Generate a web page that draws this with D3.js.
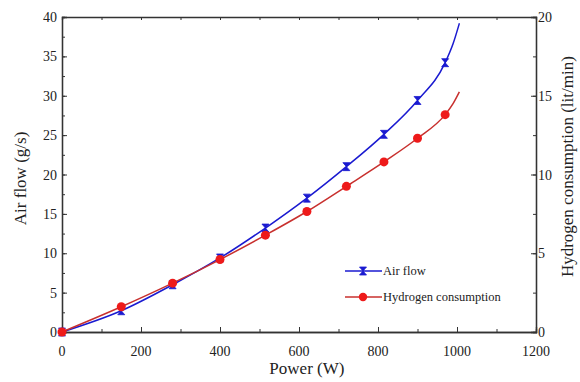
<!DOCTYPE html>
<html>
<head>
<meta charset="utf-8">
<script src="https://cdn.jsdelivr.net/npm/d3@7"></script>
<style>
  body { margin: 0; background: #fff; }
  text { font-family: "Liberation Serif", "DejaVu Serif", serif; fill: #222; }
</style>
</head>
<body>
<div id="chart"></div>
<script>
// measured points (Power in W)
const power = [0, 150, 280, 400, 515, 620, 720, 815, 900, 970];
const airFlow = [0, 2.7, 6.0, 9.4, 13.2, 17.0, 21.0, 25.1, 29.4, 34.2];
const hydrogen = [0, 1.6, 3.1, 4.6, 6.15, 7.65, 9.25, 10.8, 12.3, 13.8];

// tail of the fitted curves, past the last marker
const tailPower = [990, 1006];
const airTail = [36.6, 39.2];
const h2Tail = [14.5, 15.25];

const xTicks = [0, 200, 400, 600, 800, 1000, 1200];
const yLeftTicks = [0, 5, 10, 15, 20, 25, 30, 35, 40];
const yRightTicks = [0, 5, 10, 15, 20];

const width = 580, height = 382;
const m = { left: 62, right: 44, top: 17, bottom: 50 };

const svg = d3.select("#chart").append("svg")
  .attr("width", width).attr("height", height);

const x = d3.scaleLinear().domain([0, 1200]).range([m.left, width - m.right]);
const yL = d3.scaleLinear().domain([0, 40]).range([height - m.bottom, m.top]);
const yR = d3.scaleLinear().domain([0, 20]).range([height - m.bottom, m.top]);

const blue = "#1a1ad0";
const redLine = "#c8302e";
const redDot = "#ee1a1a";

// axes (ticks inward)
function minor(step, max) {
  return d3.range(0, max + 0.001, step);
}
const axisColor = "#333";

const gx = svg.append("g").attr("transform", `translate(0,${height - m.bottom})`);
gx.call(d3.axisTop(x).tickValues(minor(100, 1200)).tickSize(3).tickFormat(""));
gx.call(g => g.append("g").call(d3.axisTop(x).tickValues(xTicks).tickSize(5).tickFormat("")));
gx.selectAll("text").remove();
xTicks.forEach(v => {
  gx.append("text").attr("x", x(v)).attr("y", 24)
    .attr("text-anchor", "middle").style("font-size", "14px").text(v);
});

const gt = svg.append("g").attr("transform", `translate(0,${m.top})`);
gt.call(d3.axisBottom(x).tickValues(minor(100, 1200)).tickSize(3).tickFormat(""));

const gl = svg.append("g").attr("transform", `translate(${m.left},0)`);
gl.call(d3.axisRight(yL).tickValues(minor(2.5, 40)).tickSize(3).tickFormat(""));
gl.append("g").call(d3.axisRight(yL).tickValues(yLeftTicks).tickSize(5).tickFormat(""));
yLeftTicks.forEach(v => {
  gl.append("text").attr("x", -5).attr("y", yL(v) + 5)
    .attr("text-anchor", "end").style("font-size", "14px").text(v);
});

const gr = svg.append("g").attr("transform", `translate(${width - m.right},0)`);
gr.call(d3.axisLeft(yR).tickValues(minor(2.5, 20)).tickSize(3).tickFormat(""));
gr.append("g").call(d3.axisLeft(yR).tickValues(yRightTicks).tickSize(5).tickFormat(""));
yRightTicks.forEach(v => {
  gr.append("text").attr("x", 2).attr("y", yR(v) + 5)
    .attr("text-anchor", "start").style("font-size", "14px").text(v);
});

svg.selectAll(".domain").attr("stroke", axisColor).attr("stroke-width", 1.3);
svg.selectAll(".tick line").attr("stroke", axisColor);

// axis titles
svg.append("text").attr("x", x(620)).attr("y", 374)
  .attr("text-anchor", "middle").style("font-size", "17px").text("Power (W)");
svg.append("text")
  .attr("transform", `translate(26,${yL(19.5)}) rotate(-90)`)
  .attr("text-anchor", "middle").style("font-size", "17px").text("Air flow (g/s)");
svg.append("text")
  .attr("transform", `translate(573,${yR(10.5)}) rotate(-90)`)
  .attr("text-anchor", "middle").style("font-size", "17px").text("Hydrogen consumption (lit/min)");

// curves
const airPts = power.map((p, i) => [p, airFlow[i]]).concat(tailPower.map((p, i) => [p, airTail[i]]));
const h2Pts = power.map((p, i) => [p, hydrogen[i]]).concat(tailPower.map((p, i) => [p, h2Tail[i]]));

svg.append("path").datum(airPts)
  .attr("fill", "none").attr("stroke", blue).attr("stroke-width", 1.5)
  .attr("d", d3.line().x(d => x(d[0])).y(d => yL(d[1])).curve(d3.curveMonotoneX));
svg.append("path").datum(h2Pts)
  .attr("fill", "none").attr("stroke", redLine).attr("stroke-width", 1.5)
  .attr("d", d3.line().x(d => x(d[0])).y(d => yR(d[1])).curve(d3.curveMonotoneX));

const hourglass = "M-3.5,-4H3.5L-3.5,4H3.5Z";

svg.append("g").selectAll("path")
  .data(power.map((p, i) => [p, airFlow[i]]))
  .join("path")
  .attr("transform", d => `translate(${x(d[0])},${yL(d[1])})`)
  .attr("d", hourglass).attr("fill", blue).attr("stroke", blue).attr("stroke-width", 0.8);

svg.append("g").selectAll("circle")
  .data(power.map((p, i) => [p, hydrogen[i]]))
  .join("circle")
  .attr("cx", d => x(d[0])).attr("cy", d => yR(d[1])).attr("r", 4.5)
  .attr("fill", redDot);

// legend
const leg = svg.append("g").attr("transform", "translate(345,271)");
leg.append("line").attr("x1", 0).attr("x2", 37).attr("y1", 0).attr("y2", 0)
  .attr("stroke", blue).attr("stroke-width", 1.5);
leg.append("path").attr("transform", "translate(18,0)").attr("d", hourglass)
  .attr("fill", blue).attr("stroke", blue).attr("stroke-width", 0.8);
leg.append("text").attr("x", 38).attr("y", 4).style("font-size", "12.5px").text("Air flow");
leg.append("line").attr("x1", 0).attr("x2", 37).attr("y1", 26).attr("y2", 26)
  .attr("stroke", redLine).attr("stroke-width", 1.5);
leg.append("circle").attr("cx", 18).attr("cy", 26).attr("r", 4.2).attr("fill", redDot);
leg.append("text").attr("x", 38).attr("y", 30).style("font-size", "12.5px").text("Hydrogen consumption");
</script>
</body>
</html>
